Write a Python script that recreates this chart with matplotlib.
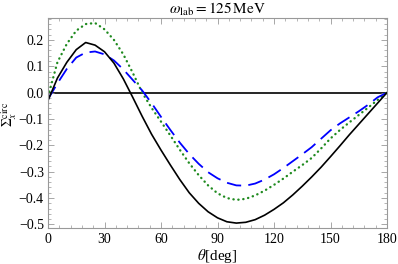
import matplotlib
matplotlib.use("Agg")
import matplotlib.pyplot as plt
from matplotlib.ticker import MultipleLocator, FuncFormatter

plt.rcParams['mathtext.fontset'] = 'stix'
plt.rcParams['font.family'] = ['Liberation Serif', 'DejaVu Serif']

theta = list(range(0, 181, 5))
black = [-0.03, 0.055, 0.115, 0.163, 0.19, 0.18, 0.155, 0.112, 0.052, -0.018, -0.09, -0.158,
         -0.218, -0.275, -0.33, -0.38, -0.42, -0.452, -0.475, -0.49, -0.495, -0.492, -0.482,
         -0.465, -0.443, -0.418, -0.388, -0.355, -0.32, -0.283, -0.243, -0.202, -0.16, -0.12,
         -0.08, -0.04, 0.0]
green = [-0.015, 0.115, 0.185, 0.235, 0.26, 0.264, 0.24, 0.2, 0.145, 0.075, 0.0, -0.058,
         -0.11, -0.163, -0.217, -0.268, -0.313, -0.352, -0.382, -0.4, -0.407, -0.403, -0.39,
         -0.372, -0.35, -0.326, -0.3, -0.275, -0.248, -0.212, -0.174, -0.142, -0.113, -0.085,
         -0.057, -0.028, 0.0]
blue = [-0.025, 0.035, 0.09, 0.133, 0.152, 0.156, 0.145, 0.122, 0.088, 0.048, 0.008, -0.04,
        -0.092, -0.142, -0.19, -0.233, -0.27, -0.302, -0.325, -0.342, -0.352, -0.353, -0.345,
        -0.33, -0.31, -0.286, -0.26, -0.234, -0.207, -0.175, -0.143, -0.117, -0.094, -0.071,
        -0.046, -0.018, 0.0]

fig = plt.figure(figsize=(3.98, 2.64), dpi=100)
ax = fig.add_axes([48/398, 1-227.7/264, (387-48)/398, (227.7-18)/264])

ax.axhline(0, color='black', lw=1.2, zorder=1)
ax.plot(theta, green, color='#1f8a1f', lw=1.7, linestyle=(0, (0.1, 2.0)), dash_capstyle='round')
ax.plot(theta, blue, color='#0000ff', lw=1.3, linestyle=(0, (8, 4)))
ax.plot(theta, black, color='black', lw=1.2)

ax.set_xlim(0, 180)
ax.set_ylim(-0.5125, 0.283)
ax.xaxis.set_major_locator(MultipleLocator(30))
ax.xaxis.set_minor_locator(MultipleLocator(6))
ax.yaxis.set_major_locator(MultipleLocator(0.1))
ax.yaxis.set_minor_locator(MultipleLocator(0.02))
ax.yaxis.set_major_formatter(FuncFormatter(lambda v, p: ('%.1f' % v).replace('-', '\u2212')))
ax.tick_params(which='both', direction='in', top=True, right=True, color='#999999', labelsize=10)
ax.tick_params(which='major', length=4, width=0.6)
ax.tick_params(which='minor', length=2, width=0.5)
ax.tick_params(axis='y', pad=3)
for s in ax.spines.values():
    s.set_color('#999999')
    s.set_linewidth(0.8)

ax.set_title(r'$\omega_{\rm lab} = 125\,{\rm MeV}$', fontsize=11, pad=3)
ax.set_xlabel(r'$\theta$[deg]', fontsize=11, labelpad=1)
ax.set_ylabel(r'$\Sigma_x^{\rm circ}$', fontsize=10)
ax.yaxis.set_label_coords(-0.086, 0.54)

fig.savefig('out.png', dpi=100)
